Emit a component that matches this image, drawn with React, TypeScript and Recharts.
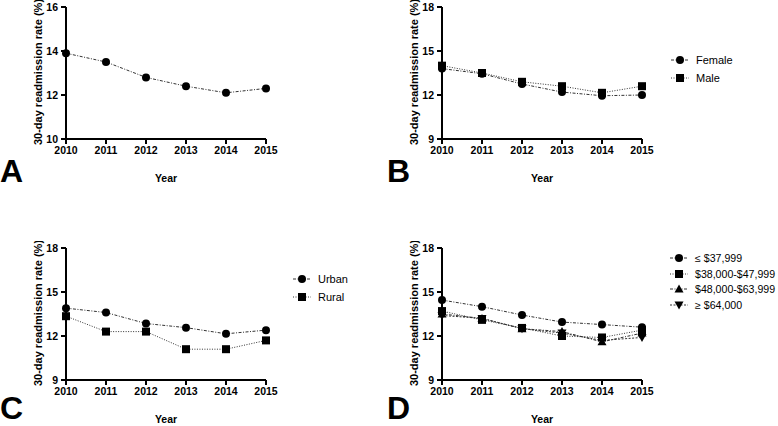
import React from 'react';
import { LineChart, Line, XAxis, YAxis } from 'recharts';

const years = ['2010', '2011', '2012', '2013', '2014', '2015'];

const overall = [13.9, 13.5, 12.8, 12.4, 12.1, 12.3];
const female = [13.8, 13.45, 12.75, 12.2, 11.95, 12.0];
const male = [14.0, 13.5, 12.9, 12.6, 12.15, 12.6];
const urban = [13.9, 13.6, 12.85, 12.57, 12.15, 12.4];
const rural = [13.35, 12.3, 12.3, 11.1, 11.1, 11.7];
const income1 = [14.45, 14.0, 13.43, 12.95, 12.78, 12.6];
const income2 = [13.7, 13.1, 12.55, 12.0, 11.9, 12.4];
const income3 = [13.5, 13.2, 12.5, 12.3, 11.6, 12.2];
const income4 = [13.4, 13.2, 12.5, 12.2, 11.7, 11.9];

const ticksA = [10, 12, 14, 16];
const ticksOther = [9, 12, 15, 18];

const FONT = '"Liberation Sans", Arial, sans-serif';
const DASH_DOT = '3 1.5 1 1.5';
const DOTTED = '1 1.5';

type Shape = 'circle' | 'square' | 'triangle' | 'down';

interface Series {
  key: string;
  name: string;
  values: number[];
  shape: Shape;
  dash: string;
}

const markerPath = (shape: Shape, cx: number, cy: number) => {
  if (shape === 'square') return `M${cx - 4},${cy - 4}h8v8h-8Z`;
  if (shape === 'triangle') return `M${cx},${cy - 4.5}L${cx + 4.5},${cy + 3.5}L${cx - 4.5},${cy + 3.5}Z`;
  if (shape === 'down') return `M${cx},${cy + 4.5}L${cx + 4.5},${cy - 3.5}L${cx - 4.5},${cy - 3.5}Z`;
  return '';
};

const Marker = ({ shape, cx, cy }: { shape: Shape; cx: number; cy: number }) => {
  if (shape === 'circle') return <circle cx={cx} cy={cy} r={4} fill="#000" />;
  return <path d={markerPath(shape, cx, cy)} fill="#000" />;
};

const YTitle = (props: any) => {
  const vb = props.viewBox || {};
  const x = vb.x + 38;
  const y = vb.y + vb.height / 2 - 1;
  return (
    <text
      x={x}
      y={y}
      transform={`rotate(-90 ${x} ${y})`}
      textAnchor="middle"
      dominantBaseline="central"
      style={{ fontFamily: FONT, fontSize: 11, fontWeight: 'bold', fill: '#000' }}
    >
      30-day readmission rate (%)
    </text>
  );
};

const XTitle = (props: any) => {
  const vb = props.viewBox || {};
  return (
    <text
      x={vb.x + vb.width / 2}
      y={vb.y + 39}
      textAnchor="middle"
      dominantBaseline="central"
      style={{ fontFamily: FONT, fontSize: 10.5, fontWeight: 'bold', fill: '#000' }}
    >
      Year
    </text>
  );
};

const LegendList = ({
  series,
  left,
  top,
  gap,
  size = 11,
}: {
  series: Series[];
  left: number;
  top: number;
  gap: number;
  size?: number;
}) => (
  <div style={{ position: 'absolute', left, top, fontFamily: FONT, fontSize: size, color: '#000', whiteSpace: 'nowrap' }}>
    {series.map((s) => (
      <div key={s.key} style={{ display: 'flex', alignItems: 'center', height: gap }}>
        <svg width={22} height={12} style={{ marginRight: 5 }}>
          <line x1={2} y1={6} x2={20} y2={6} stroke="#333" strokeWidth={1} strokeDasharray={s.dash} />
          <Marker shape={s.shape} cx={11} cy={6} />
        </svg>
        <span>{s.name}</span>
      </div>
    ))}
  </div>
);

const Panel = ({
  series,
  domain,
  ticks,
  left,
  top,
  letter,
  letterLeft,
  letterTop = 159,
}: {
  series: Series[];
  domain: [number, number];
  ticks: number[];
  left: number;
  top: number;
  letter: string;
  letterLeft: number;
  letterTop?: number;
}) => {
  const data = years.map((year, i) => {
    const row: any = { year };
    series.forEach((s) => {
      row[s.key] = s.values[i];
    });
    return row;
  });
  return (
    <div style={{ position: 'absolute', left, top, width: 280, height: 200 }}>
      <LineChart width={280} height={200} data={data} margin={{ top: 7, right: 14, bottom: 31, left: 0 }}>
        <XAxis
          dataKey="year"
          height={30}
          tickSize={5}
          tickMargin={3}
          interval={0}
          axisLine={{ stroke: '#000', strokeWidth: 2 }}
          tickLine={{ stroke: '#000', strokeWidth: 2 }}
          tick={{ fill: '#000', fontSize: 10.5, fontWeight: 'bold', fontFamily: FONT }}
          label={{ content: XTitle }}
        />
        <YAxis
          width={66}
          domain={domain}
          ticks={ticks}
          tickSize={5}
          tickMargin={3}
          axisLine={{ stroke: '#000', strokeWidth: 2 }}
          tickLine={{ stroke: '#000', strokeWidth: 2 }}
          tick={{ fill: '#000', fontSize: 10.5, fontWeight: 'bold', fontFamily: FONT }}
          label={{ content: YTitle }}
        />
        {series.map((s) => (
          <Line
            key={s.key}
            dataKey={s.key}
            name={s.name}
            type="linear"
            stroke="#333"
            strokeWidth={1}
            strokeDasharray={s.dash}
            isAnimationActive={false}
            dot={(p: any) => <Marker key={`${s.key}-${p.index}`} shape={s.shape} cx={p.cx} cy={p.cy} />}
            activeDot={false}
          />
        ))}
      </LineChart>
      <div
        style={{
          position: 'absolute',
          left: letterLeft,
          top: letterTop,
          fontFamily: FONT,
          fontSize: 32,
          fontWeight: 'bold',
          lineHeight: '24px',
          color: '#000',
        }}
      >
        {letter}
      </div>
    </div>
  );
};

const seriesA: Series[] = [{ key: 'overall', name: 'Overall', values: overall, shape: 'circle', dash: DASH_DOT }];
const seriesB: Series[] = [
  { key: 'female', name: 'Female', values: female, shape: 'circle', dash: DASH_DOT },
  { key: 'male', name: 'Male', values: male, shape: 'square', dash: DOTTED },
];
const seriesC: Series[] = [
  { key: 'urban', name: 'Urban', values: urban, shape: 'circle', dash: DASH_DOT },
  { key: 'rural', name: 'Rural', values: rural, shape: 'square', dash: DOTTED },
];
const seriesD: Series[] = [
  { key: 'inc1', name: '≤ $37,999', values: income1, shape: 'circle', dash: DASH_DOT },
  { key: 'inc2', name: '$38,000-$47,999', values: income2, shape: 'square', dash: DOTTED },
  { key: 'inc3', name: '$48,000-$63,999', values: income3, shape: 'triangle', dash: DASH_DOT },
  { key: 'inc4', name: '≥ $64,000', values: income4, shape: 'down', dash: '2 1.5' },
];

export default function App() {
  return (
    <div style={{ position: 'absolute', left: 0, top: 0, width: 778, height: 426, background: '#fff', overflow: 'hidden' }}>
      <Panel series={seriesA} domain={[10, 16]} ticks={ticksA} left={0} top={0} letter="A" letterLeft={0} />
      <Panel series={seriesB} domain={[9, 18]} ticks={ticksOther} left={376} top={0} letter="B" letterLeft={11} />
      <Panel series={seriesC} domain={[9, 18]} ticks={ticksOther} left={0} top={241} letter="C" letterLeft={0} letterTop={155} />
      <Panel series={seriesD} domain={[9, 18]} ticks={ticksOther} left={376} top={241} letter="D" letterLeft={11} letterTop={155} />
      <LegendList series={seriesB} left={669} top={51} gap={18} />
      <LegendList series={seriesC} left={291} top={270} gap={18} />
      <LegendList series={seriesD} left={668} top={250} gap={15.7} size={10.6} />
    </div>
  );
}
